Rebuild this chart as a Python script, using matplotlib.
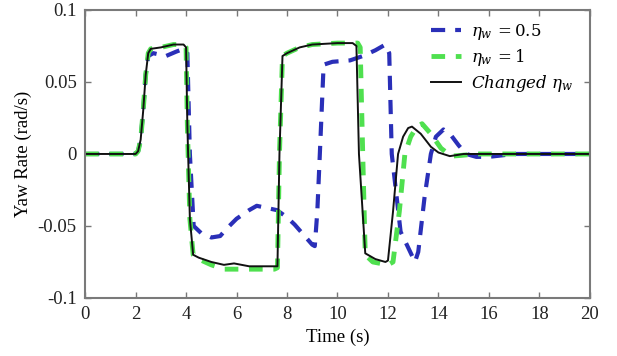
import numpy as np
import matplotlib
matplotlib.use('Agg')
from matplotlib import pyplot as plt

# Changed eta_w (black solid)
t_changed = [0, 2.0, 2.1, 2.2, 2.3, 2.4, 2.5, 2.6, 3.0, 3.5, 3.9, 4.0, 4.05, 4.15, 4.28,
             4.5, 5.0, 5.5, 5.9, 6.5, 7.5, 7.62, 7.7, 7.82, 8.0, 8.5, 9.0, 10.0, 10.6,
             10.75, 10.85, 11.1, 11.5, 11.9, 12.0, 12.2, 12.4, 12.6, 12.8, 12.95, 13.3,
             13.7, 14.0, 14.45, 15.0, 20.0]
y_changed = [0, 0, 0.002, 0.01, 0.03, 0.055, 0.07, 0.073, 0.074, 0.076, 0.076, 0.074, 0.02,
             -0.045, -0.07, -0.072, -0.075, -0.077, -0.076, -0.078, -0.078, -0.078, 0.0,
             0.068, 0.07, 0.074, 0.076, 0.077, 0.077, 0.075, 0.0, -0.069, -0.073, -0.075,
             -0.074, -0.04, 0.0, 0.012, 0.018, 0.019, 0.014, 0.005, 0.001, -0.0015, 0.0, 0.0]

# eta_w = 1 (green dashed)
t_eta1 = [0, 2.0, 2.1, 2.2, 2.3, 2.4, 2.5, 2.6, 3.0, 3.5, 3.9, 4.0, 4.05, 4.15, 4.28,
          4.5, 5.0, 5.5, 6.0, 6.5, 7.5, 7.62, 7.7, 7.82, 8.0, 8.5, 9.0, 10.0, 10.8,
          10.9, 11.0, 11.1, 11.4, 12.0, 12.2, 12.45, 12.67, 12.9, 13.15, 13.35, 13.7,
          14.1, 14.5, 14.9, 15.5, 20.0]
y_eta1 = [0, 0, 0.002, 0.01, 0.03, 0.055, 0.07, 0.073, 0.074, 0.076, 0.076, 0.074, 0.02,
          -0.045, -0.07, -0.073, -0.077, -0.08, -0.08, -0.08, -0.08, -0.079, 0.0,
          0.068, 0.07, 0.074, 0.076, 0.077, 0.077, 0.074, 0.0, -0.07, -0.075, -0.077,
          -0.075, -0.04, 0.0, 0.012, 0.019, 0.021, 0.014, 0.004, -0.0015, -0.001, 0.0, 0.0]

# eta_w = 0.5 (blue dashed)
t_eta05 = [0, 2.0, 2.1, 2.2, 2.3, 2.4, 2.5, 2.7, 3.2, 3.6, 3.9, 4.05, 4.15, 4.3, 4.6,
           5.0, 5.35, 5.6, 6.0, 6.5, 6.8, 7.6, 8.0, 8.3, 8.6, 9.0, 9.1, 9.2, 9.3, 9.45,
           9.8, 10.5, 11.0, 11.5, 11.9, 12.05, 12.15, 12.5, 12.8, 13.07, 13.2, 13.45,
           13.7, 13.9, 14.2, 14.5, 14.8, 15.1, 15.5, 16.0, 17.0, 20.0]
y_eta05 = [0, 0, 0.002, 0.01, 0.03, 0.055, 0.068, 0.07, 0.068, 0.071, 0.073, 0.07, 0.0,
           -0.05, -0.055, -0.058, -0.057, -0.052, -0.045, -0.039, -0.036, -0.039, -0.044,
           -0.049, -0.055, -0.063, -0.064, -0.04, 0.0, 0.062, 0.064, 0.065, 0.068,
           0.072, 0.076, 0.07, 0.0, -0.054, -0.065, -0.075, -0.068, -0.03, 0.0,
           0.012, 0.017, 0.013, 0.006, 0.0, -0.002, -0.002, 0.0, 0.0]

x_ticks = np.arange(0, 21, 2)
y_ticks = [-0.1, -0.05, 0, 0.05, 0.1]
y_ticklabels = ['-0.1', '-0.05', '0', '0.05', '0.1']

plt.rcParams.update({'font.family': 'Liberation Serif',
                     'mathtext.fontset': 'dejavuserif',
                     'axes.linewidth': 1.5})

fig = plt.figure(figsize=(6.17, 3.56), dpi=100)
ax = fig.add_axes([0.138, 0.163, 0.818, 0.809])

ax.plot(t_eta05, y_eta05, color='#2a2fb8', lw=3, ls=(0, (3.4, 2.4)), label=r'$\eta_w\,=0.5$')
ax.plot(t_eta1, y_eta1, color='#4fe04f', lw=3.5, ls=(0, (2.8, 2.2)), label=r'$\eta_w\,=1$')
ax.plot(t_changed, y_changed, color='#111111', lw=1.4, label=r'$Changed\ \eta_w$')

ax.set_xlim(0, 20)
ax.set_ylim(-0.1, 0.1)
ax.set_xticks(x_ticks)
ax.set_yticks(y_ticks)
ax.set_yticklabels(y_ticklabels)
ax.tick_params(direction='in', top=True, right=True, length=4, width=1,
               color='#777777', labelsize=13.5, pad=6, labelcolor='#222222')
for s in ax.spines.values():
    s.set_color('#7a7a7a')

ax.set_xlabel('Time (s)', fontsize=13.5, labelpad=4)
ax.set_ylabel('Yaw Rate (rad/s)', fontsize=13.5, labelpad=4)

ax.legend(loc='upper right', frameon=False, fontsize=12, handlelength=1.8,
          handletextpad=0.6, labelspacing=0.3, borderaxespad=0.3,
          bbox_to_anchor=(0.99, 1.0))

fig.savefig('out.png', dpi=100)
